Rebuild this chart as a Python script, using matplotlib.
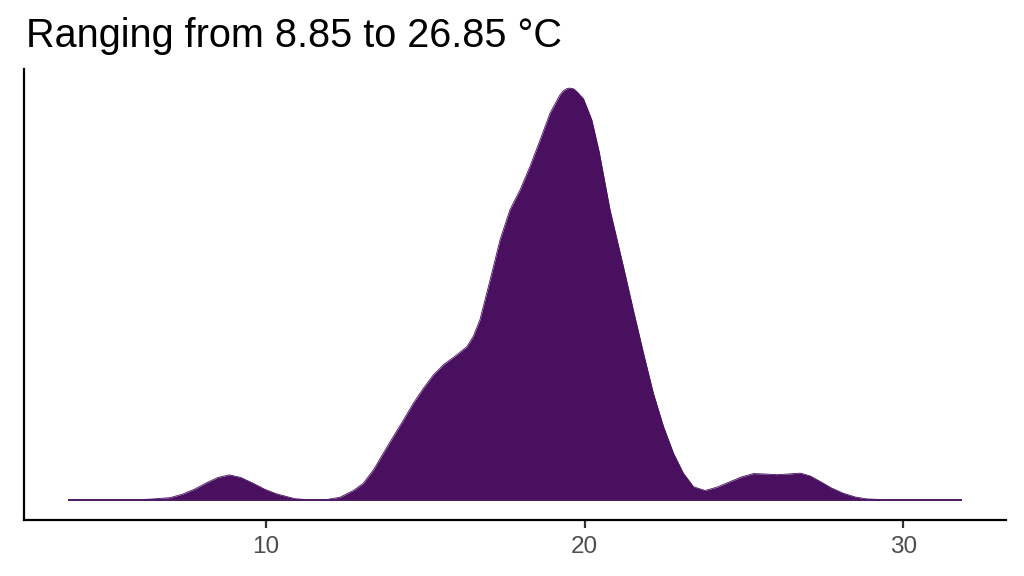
import matplotlib
matplotlib.use("Agg")
import matplotlib.pyplot as plt

# --- density curve (temperature in °C, density) ---
temp = [3.84, 5.43, 6.37, 7.00, 7.41, 7.78, 8.15, 8.50, 8.86, 9.22,
        9.61, 9.98, 10.35, 10.92, 11.49, 11.95, 12.33, 12.75, 13.06, 13.38,
        13.69, 14.00, 14.32, 14.63, 14.95, 15.26, 15.57, 15.99, 16.31, 16.51,
        16.72, 17.04, 17.35, 17.66, 17.98, 18.29, 18.61, 18.92, 19.23, 19.34,
        19.44, 19.53, 19.65, 19.76, 19.97, 20.23, 20.46, 20.80, 21.22, 21.53,
        21.85, 22.16, 22.48, 22.79, 23.10, 23.42, 23.78, 24.15, 24.57, 24.91,
        25.30, 25.67, 26.03, 26.39, 26.77, 27.08, 27.40, 27.74, 28.12, 28.49,
        28.86, 29.91, 31.82]
density = [0.0, 0.0, 0.0005, 0.0012, 0.0029, 0.0052, 0.0081, 0.0105, 0.0117, 0.0105,
           0.0078, 0.0050, 0.0029, 0.0007, 0.0001, 0.0004, 0.0014, 0.0045, 0.0078, 0.0140,
           0.0217, 0.0293, 0.0370, 0.0447, 0.0517, 0.0578, 0.0624, 0.0670, 0.0708, 0.0755,
           0.0832, 0.1016, 0.1200, 0.1339, 0.1431, 0.1539, 0.1662, 0.1785, 0.1869, 0.1888,
           0.1897, 0.1900, 0.1897, 0.1884, 0.1850, 0.1753, 0.1606, 0.1339, 0.1077, 0.0878,
           0.0678, 0.0493, 0.0339, 0.0217, 0.0125, 0.0062, 0.0045, 0.0060, 0.0086, 0.0107,
           0.0123, 0.0121, 0.0118, 0.0121, 0.0125, 0.0112, 0.0086, 0.0057, 0.0032, 0.0015,
           0.0006, 0.0, 0.0]

t_min, t_max = 8.85, 26.85
x_ticks = [10, 20, 30]

fig = plt.figure(figsize=(10.24, 5.76), dpi=100)
ax = fig.add_axes([24 / 1024, 56 / 576, (1006 - 24) / 1024, (520 - 69) / 576])

fill_col = "#48105E"
ax.fill_between(temp, density, 0, color=fill_col, linewidth=0)
ax.plot(temp, density, color=fill_col, linewidth=0.6)
ax.plot([temp[0], temp[-1]], [0, 0], color="#4E1A66", linewidth=1.4)

ax.set_xlim(2.42, 33.22)
ax.set_ylim(-0.0091, 0.1988)
ax.set_xticks(x_ticks)
ax.set_xticklabels([str(v) for v in x_ticks], fontsize=17.5, color="#4D4D4D",
                   family="Liberation Sans")
ax.set_yticks([])
ax.tick_params(axis="x", length=5.5, width=1.6, color="#333333", pad=6)

for side in ("top", "right"):
    ax.spines[side].set_visible(False)
for side in ("left", "bottom"):
    ax.spines[side].set_linewidth(1.6)
    ax.spines[side].set_color("black")

fig.text(26 / 1024, 1 - 46.7 / 576,
         f"Ranging from {t_min:.2f} to {t_max:.2f} °C",
         fontsize=28.5, family="Liberation Sans", color="black",
         ha="left", va="baseline")

fig.savefig("out.png", dpi=100)
